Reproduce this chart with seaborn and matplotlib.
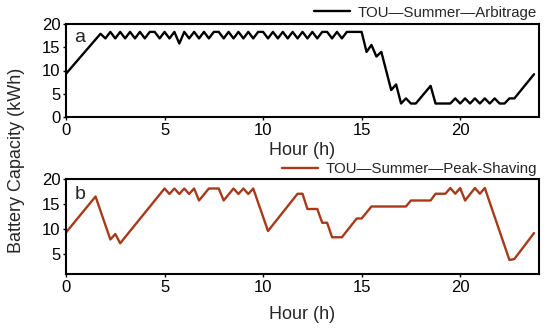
import matplotlib
matplotlib.use("Agg")
import matplotlib.pyplot as plt
import numpy as np
import pandas as pd
import seaborn as sns

# ---------------- data ----------------
arb_hours = [0.0, 1.75, 2.0, 2.25, 2.5, 2.75, 3.0, 3.25, 3.5, 3.75, 4.0, 4.25, 4.5, 4.75,
             5.0, 5.25, 5.5, 5.75, 6.0, 6.25, 6.5, 6.75, 7.0, 7.25, 7.5, 7.75, 8.0, 8.25,
             8.5, 8.75, 9.0, 9.25, 9.5, 9.75, 10.0, 10.25, 10.5, 10.75, 11.0, 11.25, 11.5,
             11.75, 12.0, 12.25, 12.5, 12.75, 13.0, 13.25, 13.5, 13.75, 14.0, 14.25, 14.5,
             14.75, 15.0, 15.25, 15.5, 15.75, 16.0, 16.5, 16.75, 17.0, 17.25, 17.5, 17.75,
             18.5, 18.75, 19.5, 19.75, 20.0, 20.25, 20.5, 20.75, 21.0, 21.25, 21.5, 21.75,
             22.0, 22.25, 22.5, 22.75, 23.75]
arb_values = [9.3, 17.9, 16.9, 18.3, 16.9, 18.3, 16.9, 18.3, 16.9, 18.3, 16.9, 18.3, 18.3, 16.9,
              18.3, 16.9, 18.3, 15.8, 18.3, 16.9, 18.3, 16.9, 18.3, 16.9, 18.3, 18.3, 16.9, 18.3,
              16.9, 18.3, 16.9, 18.3, 16.9, 18.3, 18.3, 16.9, 18.3, 16.9, 18.3, 16.9, 18.3,
              16.9, 18.3, 16.9, 18.3, 16.9, 18.3, 18.3, 16.9, 18.3, 16.9, 18.3, 18.3,
              18.3, 18.3, 14.0, 15.5, 13.0, 14.0, 5.8, 7.0, 2.9, 4.0, 2.9, 2.9,
              6.7, 2.9, 2.9, 4.0, 2.9, 4.0, 2.9, 4.0, 2.9, 4.0, 2.9, 4.0,
              2.9, 2.9, 4.0, 4.0, 9.2]

peak_hours = [0.0, 1.5, 2.25, 2.5, 2.75, 5.0, 5.25, 5.5, 5.75, 6.0, 6.25, 6.5, 6.75, 7.25,
              7.75, 8.0, 8.5, 8.75, 9.0, 9.25, 9.5, 10.25, 11.75, 12.0, 12.25, 12.75, 13.0,
              13.25, 13.5, 14.0, 14.75, 15.0, 15.5, 17.25, 17.5, 18.5, 18.75, 19.25, 19.5,
              19.75, 20.0, 20.25, 20.75, 21.0, 21.25, 22.5, 22.75, 23.75]
peak_values = [9.3, 16.5, 7.9, 9.0, 7.15, 18.1, 17.0, 18.1, 17.0, 18.1, 17.0, 18.1, 15.7, 18.1,
               18.1, 15.7, 18.1, 17.0, 18.1, 17.0, 18.1, 9.6, 17.05, 17.05, 14.0, 14.0, 11.25,
               11.25, 8.35, 8.35, 12.1, 12.1, 14.5, 14.5, 15.7, 15.7, 17.05, 17.05, 18.2,
               17.05, 18.2, 15.7, 18.2, 17.05, 18.2, 3.8, 4.0, 9.2]

x_ticks = [0, 5, 10, 15, 20]
y_ticks_a = [0, 5, 10, 15, 20]
y_ticks_b = [5, 10, 15, 20]
label_a = "TOU\u2014Summer\u2014Arbitrage"
label_b = "TOU\u2014Summer\u2014Peak-Shaving"

df_a = pd.DataFrame({"Hour": arb_hours, "Capacity": arb_values})
df_b = pd.DataFrame({"Hour": peak_hours, "Capacity": peak_values})

# ---------------- style ----------------
sns.set_style("ticks")
plt.rcParams["font.family"] = ["Liberation Sans", "DejaVu Sans"]

W, H = 550, 334
fig = plt.figure(figsize=(W / 100, H / 100), dpi=100)
ax1 = fig.add_axes([66 / W, 1 - 117 / H, 473 / W, 93 / H])
ax2 = fig.add_axes([66 / W, 1 - 274 / H, 473 / W, 95 / H])

sns.lineplot(data=df_a, x="Hour", y="Capacity", ax=ax1, color="black",
             linewidth=1.7, label=label_a)
sns.lineplot(data=df_b, x="Hour", y="Capacity", ax=ax2, color="#A63A1A",
             linewidth=1.7, label=label_b)

ax1.set_ylim(0, 20)
ax2.set_ylim(1, 20)
for ax, yt, lp in ((ax1, y_ticks_a, 3), (ax2, y_ticks_b, 8)):
    ax.set_xlim(0, 24)
    ax.set_xticks(x_ticks)
    ax.set_yticks(yt)
    ax.set_ylabel("")
    ax.set_xlabel("Hour (h)", fontsize=13, labelpad=lp)
    ax.tick_params(axis="both", labelsize=12, length=2, width=1, pad=2, colors="black")
    for sp in ax.spines.values():
        sp.set_visible(True)
        sp.set_linewidth(1.5)
        sp.set_color("black")

ax1.text(14 / 473, 0.85, "a", transform=ax1.transAxes, fontsize=14,
         ha="center", va="center")
ax2.text(14 / 473, 0.84, "b", transform=ax2.transAxes, fontsize=14,
         ha="center", va="center")

leg_kw = dict(loc="center right", bbox_transform=fig.transFigure, frameon=False,
              fontsize=10.8, handlelength=2.4, handletextpad=0.5, borderpad=0,
              borderaxespad=0)
ax1.legend(bbox_to_anchor=(537 / W, 1 - 12.7 / H), **leg_kw)
ax2.legend(bbox_to_anchor=(537 / W, 1 - 169.3 / H), **leg_kw)

fig.text(17 / W, 1 - 160 / H, "Battery Capacity (kWh)", rotation=90,
         ha="center", va="center", fontsize=13)

fig.savefig("out.png", dpi=100)
